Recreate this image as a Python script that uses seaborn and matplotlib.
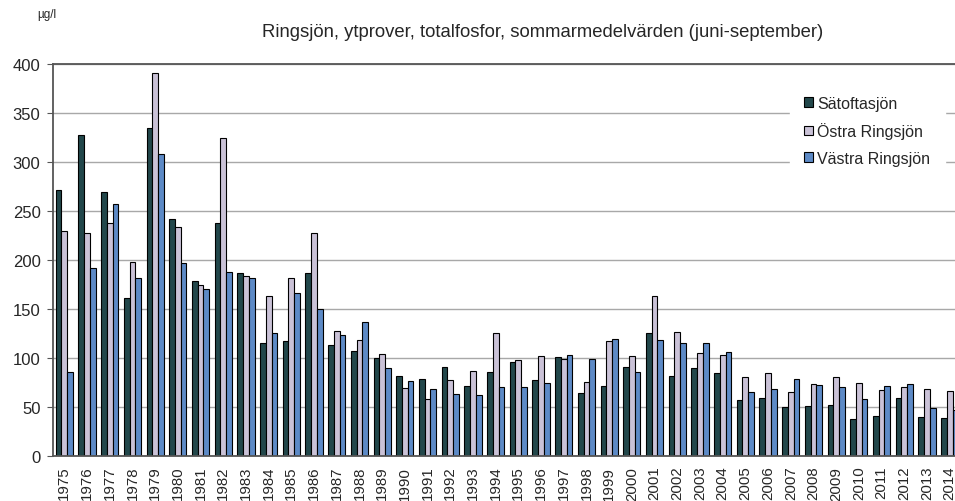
import pandas as pd
import matplotlib.pyplot as plt
import seaborn as sns

# Summer mean total phosphorus (ug/l)
years = list(range(1975, 2015))
satoftasjon = [271, 328, 269, 161, 335, 242, 179, 238, 187, 115,
               117, 187, 113, 107, 100, 82, 79, 91, 71, 86,
               96, 78, 101, 64, 71, 91, 126, 82, 90, 85,
               57, 59, 50, 51, 52, 38, 41, 59, 40, 39]
ostra = [230, 228, 238, 198, 391, 234, 175, 325, 184, 163,
         182, 228, 128, 118, 104, 69, 58, 78, 87, 126,
         98, 102, 99, 76, 117, 102, 163, 127, 105, 103,
         81, 85, 65, 73, 81, 75, 67, 70, 68, 66]
vastra = [86, 192, 257, 182, 308, 197, 170, 188, 182, 126,
          166, 150, 123, 137, 90, 77, 68, 63, 62, 70,
          70, 75, 103, 99, 119, 86, 118, 115, 115, 106,
          65, 68, 79, 72, 70, 58, 71, 73, 49, 47]
series_names = ['Sätoftasjön', 'Östra Ringsjön', 'Västra Ringsjön']
colors = ['#1b4d52', '#c9bedb', '#4b87d8']

df = pd.DataFrame({'År': [str(y) for y in years] * 3,
                   'Sjö': [n for n in series_names for _ in years],
                   'Totalfosfor': satoftasjon + ostra + vastra})

sns.set_style('white')
plt.rcParams['font.family'] = ['Liberation Sans', 'DejaVu Sans']

fig = plt.figure(figsize=(9.55, 5.02), dpi=100)
ax = fig.add_axes([53 / 955, 1 - 457 / 502, 908 / 955, 392 / 502])

sns.barplot(data=df, x='År', y='Totalfosfor', hue='Sjö', palette=colors,
            width=0.76, gap=0, edgecolor='black', linewidth=0.8, ax=ax,
            legend=True)

ax.set_ylim(0, 400)
ax.set_xlim(-0.5, len(years) - 0.5)
ax.set_yticks(range(0, 401, 50))
ax.yaxis.grid(True, color='#a8a8a8', linewidth=1.0)
ax.set_axisbelow(True)
ax.set_xlabel('')
ax.set_ylabel('')

# tick marks sit between year groups
ax.set_xticks([i for i in range(len(years))])
ax.set_xticklabels([str(y) for y in years], rotation=90, fontsize=10.8)
ax.set_xticks([i - 0.5 for i in range(len(years) + 1)], minor=True)
ax.tick_params(axis='x', which='major', length=0, pad=7)
ax.tick_params(axis='x', which='minor', length=4, color='#555555', direction='out')
ax.tick_params(axis='y', labelsize=12, length=4, color='#555555', direction='out', pad=5)
ax.tick_params(axis='both', bottom=True, left=True)

for side in ['left', 'bottom', 'top']:
    ax.spines[side].set_color('#555555')
    ax.spines[side].set_linewidth(1.3)
ax.spines['right'].set_visible(False)

leg = ax.legend(loc='upper left', bbox_to_anchor=(0.803, 0.976), frameon=True,
                fontsize=11.5, handlelength=0.55, handleheight=0.55,
                handletextpad=0.25, labelspacing=0.72, borderpad=0.9)
leg.get_frame().set_edgecolor('white')
leg.get_frame().set_facecolor('white')
leg.get_frame().set_alpha(1)
leg.get_frame().set_boxstyle('square', pad=0)
for h in leg.legend_handles:
    h.set_edgecolor('black')
    h.set_linewidth(0.8)

fig.text(0.568, 0.936, 'Ringsjön, ytprover, totalfosfor, sommarmedelvärden (juni-september)',
         ha='center', va='center', fontsize=13.3)
fig.text(0.039, 0.97, 'µg/l', ha='left', va='center', fontsize=8.5)

fig.savefig('out.png', dpi=100)
